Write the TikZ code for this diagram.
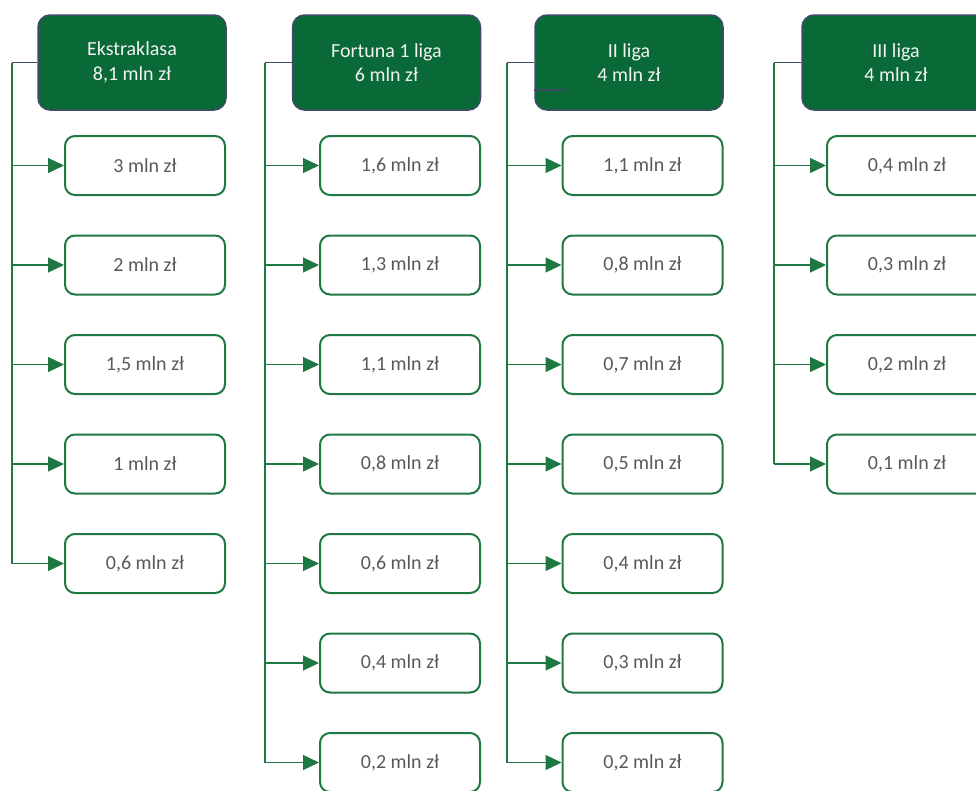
\documentclass[tikz,border=0pt]{standalone}
\usepackage{fontspec}
\setmainfont{Carlito}
\usetikzlibrary{arrows.meta}
\definecolor{leaguegreen}{HTML}{0A6A37}
\definecolor{boxgreen}{HTML}{1F7842}
\definecolor{slate}{HTML}{3E4C69}
\definecolor{amount}{HTML}{595959}
\tikzset{
  league/.style={draw=slate, line width=1.5pt, fill=leaguegreen, rounded corners=12pt,
    minimum width=188pt, minimum height=95pt, align=center, text=white!95!black,
    font=\fontsize{20}{24.5}\selectfont},
  share/.style={draw=boxgreen, line width=2pt, fill=white, rounded corners=10pt,
    minimum width=160pt, minimum height=59pt, text=amount,
    font=\fontsize{20}{24}\selectfont},
  trunk/.style={draw=boxgreen, line width=1.1pt},
  feed/.style={draw=slate, line width=1.1pt},
  arr/.style={trunk, -{Triangle[length=16pt,width=15pt,fill=boxgreen]}}
}
\begin{document}
\begin{tikzpicture}[x=1pt,y=-1pt]
  \clip (0,0) rectangle (976,790);

  % leagues
  \node[league] (ekstra) at (132,62.5) {Ekstraklasa\\8,1 mln zł};
  \node[league] (first) at (386.5,62.5) {Fortuna 1 liga\\6 mln zł};
  \node[league] (second) at (629,62.5) {II liga\\4 mln zł};
  \node[league] (third) at (896,62.5) {III liga\\4 mln zł};

  % Ekstraklasa
  \node[share] (e1) at (145,165.5) {3 mln zł};
  \node[share] (e2) at (145,265) {2 mln zł};
  \node[share] (e3) at (145,364.5) {1,5 mln zł};
  \node[share] (e4) at (145,464) {1 mln zł};
  \node[share] (e5) at (145,563.5) {0,6 mln zł};

  % Fortuna 1 liga
  \node[share] (f1) at (400,165.5) {1,6 mln zł};
  \node[share] (f2) at (400,265) {1,3 mln zł};
  \node[share] (f3) at (400,364.5) {1,1 mln zł};
  \node[share] (f4) at (400,464) {0,8 mln zł};
  \node[share] (f5) at (400,563.5) {0,6 mln zł};
  \node[share] (f6) at (400,663) {0,4 mln zł};
  \node[share] (f7) at (400,762.5) {0,2 mln zł};

  % II liga
  \node[share] (s1) at (642.5,165.5) {1,1 mln zł};
  \node[share] (s2) at (642.5,265) {0,8 mln zł};
  \node[share] (s3) at (642.5,364.5) {0,7 mln zł};
  \node[share] (s4) at (642.5,464) {0,5 mln zł};
  \node[share] (s5) at (642.5,563.5) {0,4 mln zł};
  \node[share] (s6) at (642.5,663) {0,3 mln zł};
  \node[share] (s7) at (642.5,762.5) {0,2 mln zł};

  % III liga
  \node[share] (t1) at (907,165.5) {0,4 mln zł};
  \node[share] (t2) at (907,265) {0,3 mln zł};
  \node[share] (t3) at (907,364.5) {0,2 mln zł};
  \node[share] (t4) at (907,464) {0,1 mln zł};

  % trunks
  \coordinate (ek) at (12,62.5);
  \coordinate (fk) at (265,62.5);
  \coordinate (sk) at (507,62.5);
  \coordinate (tk) at (774,62.5);
  \draw[feed] (ekstra.west) -- (ek);
  \draw[feed] (first.west) -- (fk);
  \draw[feed] (second.west) -- (sk);
  \draw[feed] (third.west) -- (tk);
  \draw[feed] (second.west |- 0,90) -- ++(31,0);

  \draw[trunk] (ek) -- (ek |- e5.west);
  \draw[trunk] (fk) -- (fk |- f7.west);
  \draw[trunk] (sk) -- (sk |- s7.west);
  \draw[trunk] (tk) -- (tk |- t4.west);

  \foreach \n in {e1,e2,e3,e4,e5}
    \draw[arr] (ek |- \n.west) -- (\n.west);
  \foreach \n in {f1,f2,f3,f4,f5,f6,f7}
    \draw[arr] (fk |- \n.west) -- (\n.west);
  \foreach \n in {s1,s2,s3,s4,s5,s6,s7}
    \draw[arr] (sk |- \n.west) -- (\n.west);
  \foreach \n in {t1,t2,t3,t4}
    \draw[arr] (tk |- \n.west) -- (\n.west);
\end{tikzpicture}
\end{document}
